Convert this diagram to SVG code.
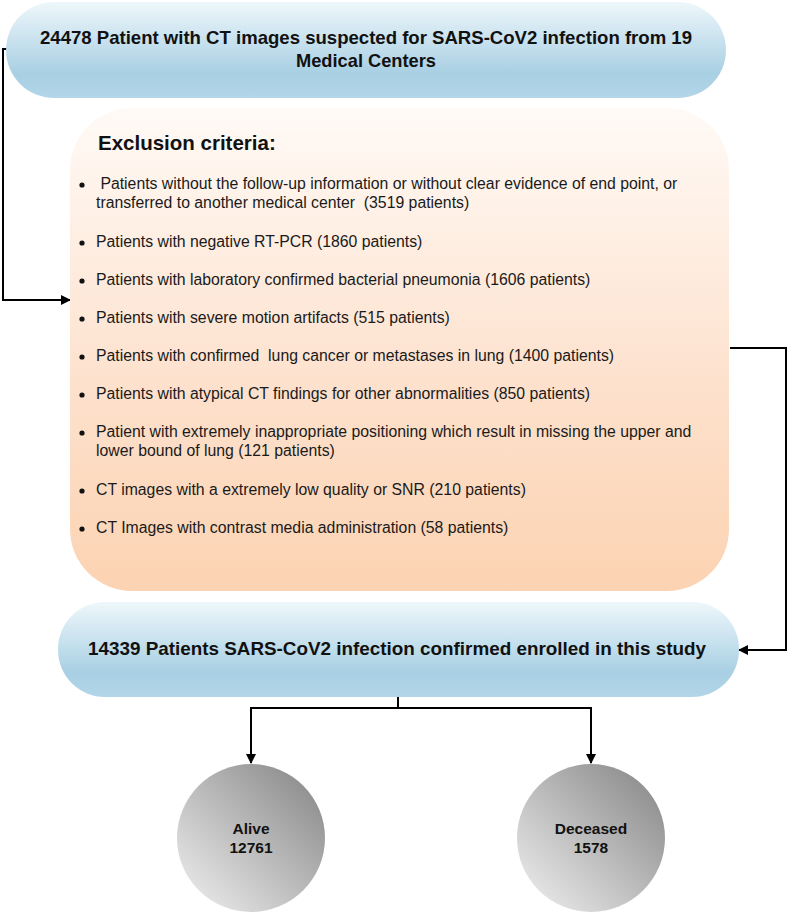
<svg xmlns="http://www.w3.org/2000/svg" width="789" height="913" viewBox="0 0 789 913">
<style>
.t{font-family:"Liberation Sans",Arial,sans-serif;fill:#111}
.hd{font-size:19px;font-weight:bold}
.it{font-size:15.8px;fill:#1a1a1a}
.cl{font-size:15.5px;font-weight:bold;text-anchor:middle}
.ln{fill:none;stroke:#000;stroke-width:2}
</style>
<defs>
<linearGradient id="blue" x1="0" y1="0" x2="0" y2="1">
<stop offset="0" stop-color="#eef7fb"/>
<stop offset="0.75" stop-color="#a8cfe3"/>
<stop offset="1" stop-color="#b3d6e8"/>
</linearGradient>
<linearGradient id="peach" x1="0" y1="0" x2="0" y2="1">
<stop offset="0" stop-color="#fffaf6"/>
<stop offset="0.6" stop-color="#fde0cb"/>
<stop offset="1" stop-color="#fcd3b2"/>
</linearGradient>
<linearGradient id="gray" x1="1" y1="0" x2="0" y2="1">
<stop offset="0" stop-color="#828282"/>
<stop offset="1" stop-color="#f2f2f2"/>
</linearGradient>
<marker id="ar" viewBox="0 0 10 10" refX="9" refY="5" markerWidth="5" markerHeight="5" orient="auto" markerUnits="strokeWidth">
<path d="M0,0 L10,5 L0,10 z" fill="#000"/>
</marker>
</defs>

<g id="connectors">
<path class="ln" d="M9,49 H3 V300 H70" marker-end="url(#ar)"/>
<path class="ln" d="M730,348 H786 V650 H739" marker-end="url(#ar)"/>
<path class="ln" d="M398,697 V708"/>
<path class="ln" d="M251,708 H591"/>
<path class="ln" d="M251,707 V763" marker-end="url(#ar)"/>
<path class="ln" d="M591,707 V763" marker-end="url(#ar)"/>
</g>

<g id="start">
<rect x="6" y="2" width="720" height="96" rx="48" ry="48" fill="url(#blue)"/>
<text class="t hd" x="366" y="44" text-anchor="middle" textLength="652" lengthAdjust="spacingAndGlyphs">24478 Patient with CT images suspected for SARS-CoV2 infection from 19</text>
<text class="t hd" x="366" y="67" text-anchor="middle" textLength="140" lengthAdjust="spacingAndGlyphs">Medical Centers</text>
</g>

<g id="exclusion">
<rect x="70" y="108" width="659" height="483" rx="62" ry="62" fill="url(#peach)"/>
<text class="t" x="98" y="150" font-size="20.5" font-weight="bold">Exclusion criteria:</text>
<g fill="#111">
<circle cx="82" cy="185" r="2.6"/>
<circle cx="82" cy="243" r="2.6"/>
<circle cx="82" cy="281" r="2.6"/>
<circle cx="82" cy="319" r="2.6"/>
<circle cx="82" cy="357" r="2.6"/>
<circle cx="82" cy="395" r="2.6"/>
<circle cx="82" cy="433" r="2.6"/>
<circle cx="82" cy="491" r="2.6"/>
<circle cx="82" cy="529" r="2.6"/>
</g>
<text class="t it" x="96" y="189" xml:space="preserve"> Patients without the follow-up information or without clear evidence of end point, or</text>
<text class="t it" x="96" y="208" xml:space="preserve">transferred to another medical center  (3519 patients)</text>
<text class="t it" x="96" y="247">Patients with negative RT-PCR (1860 patients)</text>
<text class="t it" x="96" y="285">Patients with laboratory confirmed bacterial pneumonia (1606 patients)</text>
<text class="t it" x="96" y="323">Patients with severe motion artifacts (515 patients)</text>
<text class="t it" x="96" y="361" xml:space="preserve">Patients with confirmed  lung cancer or metastases in lung (1400 patients)</text>
<text class="t it" x="96" y="399">Patients with atypical CT findings for other abnormalities (850 patients)</text>
<text class="t it" x="96" y="437">Patient with extremely inappropriate positioning which result in missing the upper and</text>
<text class="t it" x="96" y="456">lower bound of lung (121 patients)</text>
<text class="t it" x="96" y="495">CT images with a extremely low quality or SNR (210 patients)</text>
<text class="t it" x="96" y="533">CT Images with contrast media administration (58 patients)</text>
</g>

<g id="enrolled">
<rect x="58" y="602" width="681" height="95" rx="47" ry="47" fill="url(#blue)"/>
<text class="t hd" x="397" y="655" text-anchor="middle" textLength="618" lengthAdjust="spacingAndGlyphs">14339 Patients SARS-CoV2 infection confirmed enrolled in this study</text>
</g>

<g id="alive">
<circle cx="251" cy="838" r="74" fill="url(#gray)"/>
<text class="t cl" x="251" y="834">Alive</text>
<text class="t cl" x="251" y="853">12761</text>
</g>

<g id="deceased">
<circle cx="591" cy="838" r="74" fill="url(#gray)"/>
<text class="t cl" x="591" y="834">Deceased</text>
<text class="t cl" x="591" y="853">1578</text>
</g>
</svg>
